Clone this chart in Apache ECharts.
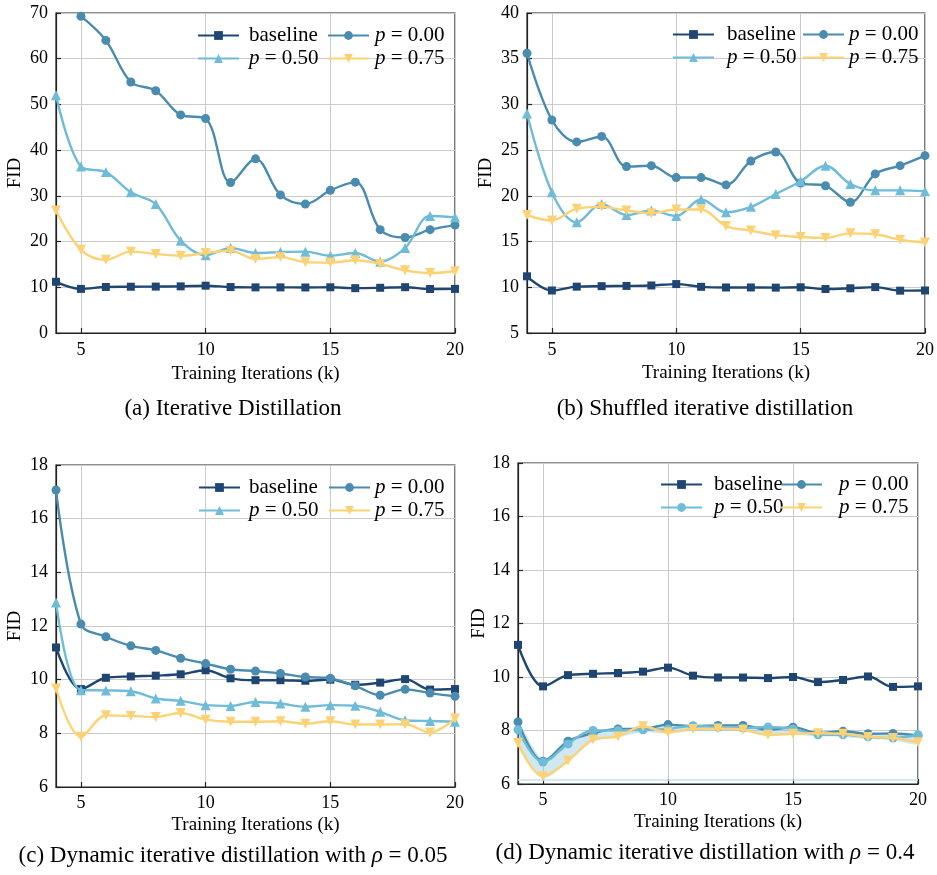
<!DOCTYPE html>
<html><head><meta charset="utf-8">
<script src="https://cdn.jsdelivr.net/npm/echarts@6/dist/echarts.min.js"></script>
<style>html,body{margin:0;padding:0;background:#fff}#c{width:937px;height:875px}</style>
</head><body><div id="c"></div>
<script>
// ---------------- data ----------------
const iters = [4,5,6,7,8,9,10,11,12,13,14,15,16,17,18,19,20];
const xTicks = [5,10,15,20];

const baseline = [11.2, 9.65, 10.07, 10.12, 10.15, 10.2, 10.35, 10.05, 9.98, 9.98, 9.96, 10.0, 9.81, 9.89, 10.02, 9.63, 9.65];

const aP000 = [null, 69.3, 64.0, 54.9, 53.0, 47.7, 46.9, 32.9, 38.1, 30.2, 28.2, 31.2, 33.0, 22.6, 20.9, 22.6, 23.6];
const aP050 = [52.0, 36.4, 35.2, 30.8, 28.2, 20.2, 17.0, 18.6, 17.5, 17.7, 17.8, 16.9, 17.5, 15.6, 18.6, 25.6, 25.3];
const aP075 = [26.8, 18.2, 16.0, 17.8, 17.3, 16.9, 17.5, 18.0, 16.2, 16.6, 15.5, 15.4, 15.9, 15.1, 13.7, 13.1, 13.5];

const bP000 = [35.6, 28.3, 25.9, 26.5, 23.2, 23.3, 22.0, 22.0, 21.2, 23.8, 24.8, 21.4, 21.1, 19.3, 22.4, 23.3, 24.4];
const bP050 = [29.0, 20.4, 17.1, 19.1, 17.9, 18.4, 17.8, 19.6, 18.2, 18.8, 20.2, 21.6, 23.3, 21.3, 20.6, 20.6, 20.5];
const bP075 = [17.9, 17.3, 18.6, 18.8, 18.4, 18.1, 18.5, 18.5, 16.7, 16.2, 15.7, 15.5, 15.4, 15.9, 15.8, 15.2, 14.9];

const cP000 = [17.07, 12.07, 11.6, 11.26, 11.09, 10.8, 10.6, 10.39, 10.32, 10.23, 10.1, 10.05, 9.77, 9.42, 9.64, 9.5, 9.38];
const cP050 = [12.88, 9.61, 9.6, 9.57, 9.3, 9.21, 9.05, 9.02, 9.17, 9.11, 8.99, 9.05, 9.03, 8.8, 8.49, 8.46, 8.43];
const cP075 = [9.67, 7.87, 8.67, 8.65, 8.61, 8.76, 8.51, 8.43, 8.43, 8.45, 8.36, 8.45, 8.33, 8.33, 8.34, 8.03, 8.55];

const dP000 = [8.32, 6.85, 7.6, 7.9, 8.06, 8.06, 8.22, 8.16, 8.19, 8.19, 8.03, 8.12, 7.9, 7.97, 7.88, 7.89, 7.8];
const dP050 = [8.03, 6.82, 7.5, 8.0, 8.0, 8.03, 8.06, 8.18, 8.12, 8.09, 8.13, 8.06, 7.84, 7.84, 7.76, 7.72, 7.84];
const dP075 = [7.53, 6.29, 6.87, 7.66, 7.78, 8.16, 7.93, 8.06, 8.07, 8.03, 7.84, 7.88, 7.9, 7.88, 7.76, 7.72, 7.56];
const dBandLow  = [7.4, 6.22, 6.82, 7.58, 7.74, 7.93, 7.88, 7.98, 7.99, 7.97, 7.8, 7.84, 7.78, 7.76, 7.68, 7.64, 7.48];
const dBandHigh = [8.32, 6.92, 7.62, 8.02, 8.07, 8.1, 8.22, 8.19, 8.2, 8.2, 8.13, 8.13, 7.96, 7.98, 7.9, 7.91, 7.86];
const dFloor = 6.15;

const yRanges = [[0,70,10],[5,40,5],[6,18,2],[6,18,2]];
const captions = [
  '(a) Iterative Distillation',
  '(b) Shuffled iterative distillation',
  '(c) Dynamic iterative distillation with {i|ρ} = 0.05',
  '(d) Dynamic iterative distillation with {i|ρ} = 0.4'
];

// ---------------- styles ----------------
const F = '"Liberation Serif", "Times New Roman", serif';
const C = {base:'#1f4672', p0:'#4a8bb0', p5:'#6fbcd9', p7:'#fcd274'};

const grids = [
  {left:56, top:13, width:399, height:320},
  {left:527, top:13, width:399, height:320},
  {left:56, top:465, width:399, height:322},
  {left:518, top:463, width:400, height:321}
];
const xNameGap = [32, 31, 29, 29];
const xLabelMargin = [8, 8, 7, 7];
const yNameGap = [31, 31, 31, 27];

function xAx(i){
  return {type:'value', gridIndex:i, min:4, max:20,
    name:'Training Iterations (k)', nameLocation:'middle', nameGap:xNameGap[i],
    nameTextStyle:{fontFamily:F, fontSize:19, color:'#000'},
    axisLine:{show:true, lineStyle:{color:'#222', width:1.2}},
    axisTick:{show:true, inside:true, length:5, customValues:xTicks, lineStyle:{color:'#222', width:1.2}},
    axisLabel:{customValues:xTicks, fontFamily:F, fontSize:18, color:'#000', margin:xLabelMargin[i]},
    splitLine:{show:true, lineStyle:{color:'#cbcbcb', width:1}}
  };
}
function yAx(i){
  const r = yRanges[i];
  return {type:'value', gridIndex:i, min:r[0], max:r[1], interval:r[2],
    name:'FID', nameLocation:'middle', nameGap:yNameGap[i],
    nameTextStyle:{fontFamily:F, fontSize:19, color:'#000'},
    axisLine:{show:true, lineStyle:{color:'#222', width:1.2}},
    axisTick:{show:true, inside:true, length:5, lineStyle:{color:'#222', width:1.2}},
    axisLabel:{fontFamily:F, fontSize:18, color:'#000', margin:8},
    splitLine:{show:true, lineStyle:{color:'#cbcbcb', width:1}}
  };
}
const sym = {
  base:{symbol:'rect', symbolSize:8, symbolRotate:0},
  p0:{symbol:'circle', symbolSize:9, symbolRotate:0},
  p5:{symbol:'triangle', symbolSize:10, symbolRotate:0},
  p7:{symbol:'triangle', symbolSize:10, symbolRotate:180},
  p5c:{symbol:'circle', symbolSize:9, symbolRotate:0}
};
function line(i, name, arr, colorKey, symKey, z){
  const s = sym[symKey];
  return {type:'line', name:name, xAxisIndex:i, yAxisIndex:i,
    data: iters.map((x,k)=>[x, arr[k]]),
    smooth:0.35, connectNulls:false, showSymbol:true,
    symbol:s.symbol, symbolSize:s.symbolSize, symbolRotate:s.symbolRotate,
    lineStyle:{color:C[colorKey], width:2.4},
    itemStyle:{color:C[colorKey]},
    emphasis:{disabled:true}, z:z, clip:true, animation:false};
}
const panels = [
  ['a', aP000, aP050, aP075],
  ['b', bP000, bP050, bP075],
  ['c', cP000, cP050, cP075],
  ['d', dP000, dP050, dP075]
];
const series = [];
// shaded band + floor line for (d), drawn through the axis scales
series.push({type:'custom', name:'band', xAxisIndex:3, yAxisIndex:3, data:[0], z:1, silent:true, animation:false,
  renderItem:function(params, api){
    const up = iters.map((x,k)=>api.coord([x, dBandHigh[k]]));
    const lo = iters.map((x,k)=>api.coord([x, dBandLow[k]])).reverse();
    const f0 = api.coord([iters[0], dFloor]);
    const f1 = api.coord([iters[iters.length-1], dFloor]);
    return {type:'group', children:[
      {type:'polygon', shape:{points:up.concat(lo), smooth:0.25}, style:{fill:'rgba(140,200,222,0.42)', stroke:null}},
      {type:'line', shape:{x1:f0[0], y1:f0[1], x2:f1[0], y2:f1[1]}, style:{stroke:'#c6e3ee', lineWidth:1.6}}
    ]};
  }});

panels.forEach((p,i)=>{
  const tag = p[0];
  series.push(line(i, tag+'|baseline', baseline, 'base', 'base', 5));
  series.push(line(i, tag+'|p = 0.00', p[1], 'p0', 'p0', 6));
  series.push(line(i, tag+'|p = 0.50', p[2], 'p5', tag==='d' ? 'p5c' : 'p5', 7));
  series.push(line(i, tag+'|p = 0.75', p[3], 'p7', 'p7', 8));
});

function fmt(name){
  const t = name.split('|')[1];
  return t === 'baseline' ? t : '{i|p}' + t.slice(1);
}
const legendPos = [
  // [col1Left, col1Pad, col2Left, col2Pad, top]
  [197, 5, 327, 1, 25],
  [672, 8, 802, 0, 24],
  [198, 4, 328, 0, 477],
  [660, 7, 780, 12, 474]
];
const legends = [];
panels.forEach((p,i)=>{
  const tag = p[0], L = legendPos[i];
  const common = {orient:'vertical', top:L[4], itemWidth:41, itemHeight:11, itemGap:2, padding:0,
    selectedMode:false, formatter:fmt, inactiveColor:'#ccc'};
  legends.push(Object.assign({}, common, {left:L[0], data:[tag+'|baseline', tag+'|p = 0.50'],
    textStyle:{fontFamily:F, fontSize:21, lineHeight:21, color:'#000', padding:[0,0,0,L[1]],
      rich:{i:{fontFamily:F, fontStyle:'italic', fontSize:21, color:'#000'}}}}));
  legends.push(Object.assign({}, common, {left:L[2], data:[tag+'|p = 0.00', tag+'|p = 0.75'],
    textStyle:{fontFamily:F, fontSize:21, lineHeight:21, color:'#000', padding:[0,0,0,L[3]],
      rich:{i:{fontFamily:F, fontStyle:'italic', fontSize:21, color:'#000'}}}}));
});

const capPos = [[233,409],[705,409],[233,856],[705,853]];
const graphic = captions.map((t,i)=>({type:'text', x:capPos[i][0], y:capPos[i][1], silent:true,
  style:{text:t, fontFamily:F, fontSize:23, fill:'#000', align:'center', verticalAlign:'middle',
    textAlign:'center', textVerticalAlign:'middle',
    rich:{i:{fontFamily:F, fontStyle:'italic', fontSize:23, fill:'#000'}}}}));

const chart = echarts.init(document.getElementById('c'), null, {renderer:'canvas'});
chart.setOption({
  backgroundColor:'#fff',
  animation:false,
  grid: grids.map(g=>Object.assign({show:true, borderColor:'#222', borderWidth:1.2, backgroundColor:'transparent'}, g)),
  xAxis:[0,1,2,3].map(xAx),
  yAxis:[0,1,2,3].map(yAx),
  legend: legends,
  series: series,
  graphic: graphic
});
</script></body></html>
